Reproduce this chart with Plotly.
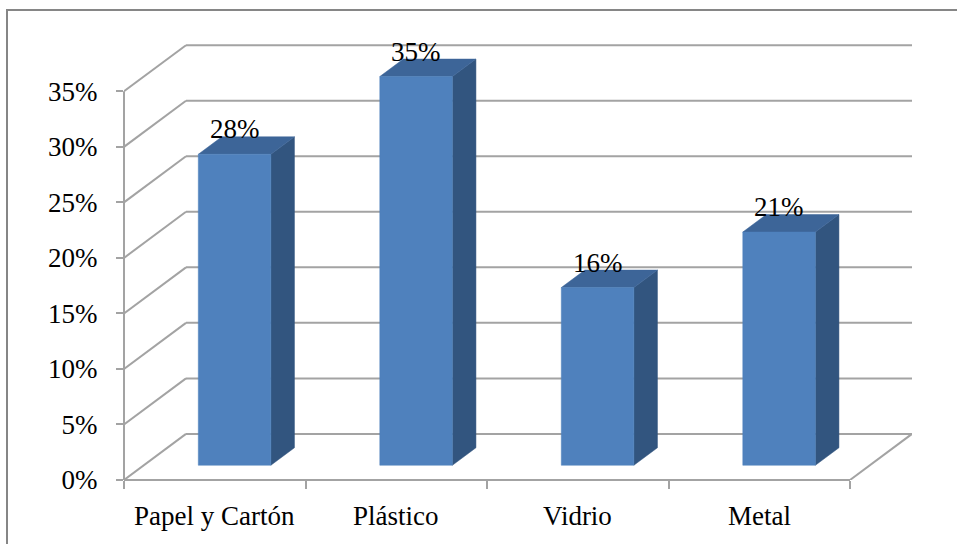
import plotly.graph_objects as go

# Data
categories = ["Papel y Cartón", "Plástico", "Vidrio", "Metal"]
shares = [28, 35, 16, 21]
y_ticks = [0, 5, 10, 15, 20, 25, 30, 35]
y_tick_labels = [f"{t}%" for t in y_ticks]

# Canvas and plot-area geometry
W, H = 957, 544
L, R, T, B = 124, 45, 43, 64
PLOT_H = H - T - B
PLOT_W = W - L - R

# Pseudo-3D depth (offset of the back wall) and bar proportions
DX = 0.3416          # in category units
DY = 4.15            # in value units
BAR_W = 0.40         # bar width as a fraction of one category
BAR_Z0 = 0.32        # depth fraction of the bar's front face
BAR_T = 0.38         # bar thickness as a fraction of the depth
Y_PAD = 0.2

FRONT = "#4F81BD"
SIDE = "#32557F"
TOP = "#3D6598"
GRID = "#A3A3A3"
BORDER = "#868686"
FONT = "Liberation Serif"
FSIZE = 27

n = len(categories)
x_lo, x_hi = -0.5, n - 0.5
y_top = max(y_ticks)

fig = go.Figure()
shapes = []


def seg(x0, y0, x1, y1, xref="x", yref="y", color=GRID, width=2):
    shapes.append(dict(type="line", xref=xref, yref=yref,
                       x0=x0, y0=y0, x1=x1, y1=y1,
                       line=dict(color=color, width=width), layer="below"))


# Side wall diagonals and back-wall gridlines
for t in y_ticks:
    seg(x_lo, t, x_lo + DX, t + DY)
    seg(x_lo + DX, t + DY, x_hi + DX, t + DY)
# Right edge of the floor
seg(x_hi, 0, x_hi + DX, DY)
# Front value axis and front category axis
seg(0, 0, 0, y_top, xref="paper", yref="y")
seg(x_lo, 0, x_hi, 0, xref="x", yref="paper")


def px_to_paper_x(px):
    return (px - L) / PLOT_W


def px_to_paper_y(py):
    return (H - B - py) / PLOT_H


# Outer chart-area frame (left and top edges visible)
shapes.append(dict(type="rect", xref="paper", yref="paper",
                   x0=px_to_paper_x(7), x1=px_to_paper_x(W + 20),
                   y0=px_to_paper_y(H + 20), y1=px_to_paper_y(10),
                   line=dict(color=BORDER, width=2), fillcolor="rgba(0,0,0,0)",
                   layer="above"))

# Bars: side, top and front faces
annotations = []
for i, v in enumerate(shares):
    x0 = i - BAR_W / 2 + BAR_Z0 * DX
    x1 = i + BAR_W / 2 + BAR_Z0 * DX
    yb = BAR_Z0 * DY
    yt = v + BAR_Z0 * DY
    ox, oy = BAR_T * DX, BAR_T * DY
    faces = [
        ([x1, x1 + ox, x1 + ox, x1, x1], [yb, yb + oy, yt + oy, yt, yb], SIDE),
        ([x0, x1, x1 + ox, x0 + ox, x0], [yt, yt, yt + oy, yt + oy, yt], TOP),
        ([x0, x1, x1, x0, x0], [yb, yb, yt, yt, yb], FRONT),
    ]
    for fx, fy, col in faces:
        fig.add_trace(go.Scatter(x=fx, y=fy, mode="lines", fill="toself",
                                 fillcolor=col, line=dict(color=col, width=0.5),
                                 hoverinfo="skip", showlegend=False))
    annotations.append(dict(x=(x0 + x1) / 2, y=yt, xref="x", yref="y",
                            text=f"{v}%", showarrow=False, yanchor="middle",
                            yshift=25, font=dict(family=FONT, size=FSIZE, color="black")))

# Category labels under the front axis
for i, c in enumerate(categories):
    annotations.append(dict(x=i, y=px_to_paper_y(516), xref="x", yref="paper",
                            text=c, showarrow=False, yanchor="middle",
                            font=dict(family=FONT, size=FSIZE, color="black")))

fig.update_layout(
    width=W, height=H, autosize=False,
    margin=dict(l=L, r=R, t=T, b=B, pad=0),
    paper_bgcolor="white", plot_bgcolor="white",
    showlegend=False,
    shapes=shapes, annotations=annotations,
    xaxis=dict(range=[x_lo, x_hi + DX], showgrid=False, zeroline=False,
               showline=False, tickmode="array",
               tickvals=[i - 0.5 for i in range(n + 1)],
               ticks="outside", ticklen=8, tickwidth=2, tickcolor=GRID,
               showticklabels=False, fixedrange=True),
    yaxis=dict(range=[0, y_top + DY + Y_PAD], showgrid=False, zeroline=False,
               showline=False, tickmode="array", tickvals=y_ticks,
               ticktext=y_tick_labels, ticks="outside", ticklen=7,
               tickwidth=2, tickcolor=GRID, ticklabelstandoff=13,
               tickfont=dict(family=FONT, size=FSIZE, color="black"),
               fixedrange=True),
)

fig.write_html("out.html")
